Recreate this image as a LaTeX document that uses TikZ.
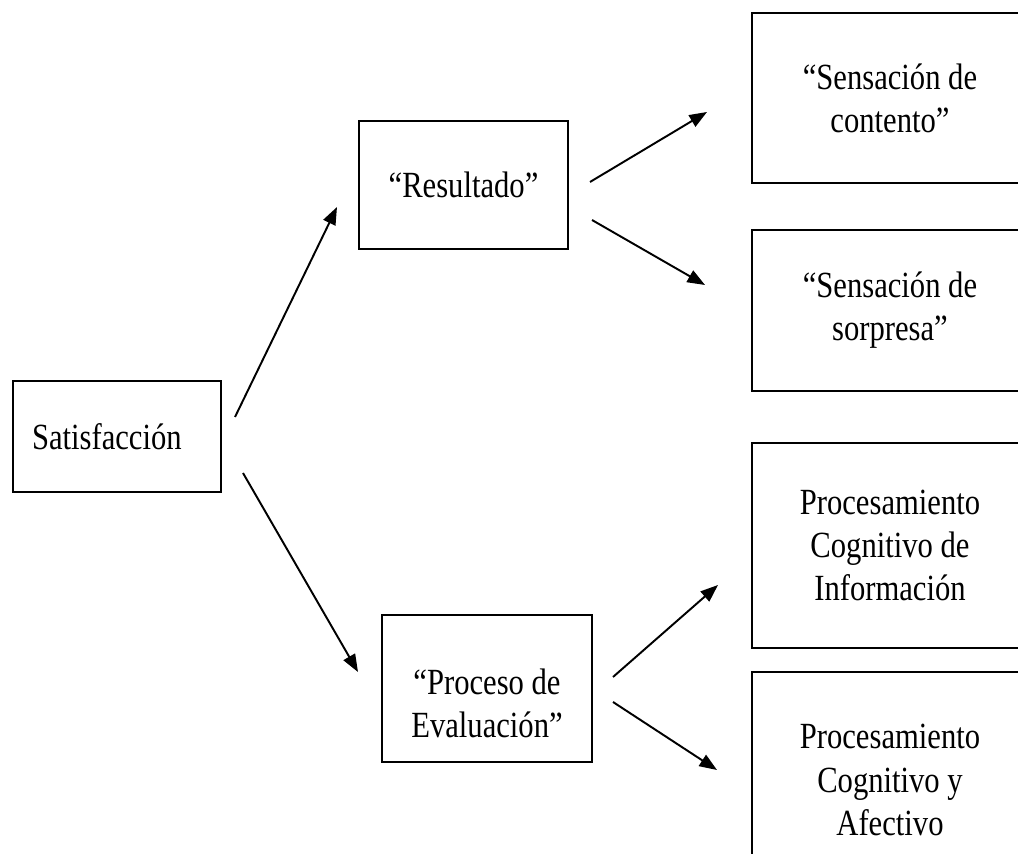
\documentclass[tikz,border=0pt]{standalone}
\usepackage{fontspec}
\setmainfont[FakeStretch=0.83]{Liberation Serif}
\usetikzlibrary{arrows.meta}

\begin{document}
\begin{tikzpicture}[x=0.02cm, y=-0.02cm,
    font=\fontsize{21pt}{24.5pt}\selectfont,
    box/.style={draw, line width=1.4pt, align=center, inner sep=0pt},
    link/.style={line width=1.1pt, -{Triangle[length=10pt, width=7.5pt]}}]
  \useasboundingbox (0,0) rectangle (1018,854);
  \clip (0,0) rectangle (1018,854);

  % left and middle boxes
  \node[box, align=left, text width=3.4cm, inner xsep=0.38cm, minimum height=2.22cm] (sat) at (117,436.5) {Satisfacción};
  \node[box, minimum width=4.18cm, minimum height=2.56cm] (res) at (463.5,185) {“Resultado”};
  \node[box, minimum width=4.2cm, minimum height=2.94cm] (proc) at (487,688.5) {\rule{0pt}{32pt}“Proceso de\\Evaluación”};

  % right column (runs past the page edge)
  \node[box, minimum width=5.52cm, minimum height=3.4cm] (cont) at (890,98) {“Sensación de\\contento”};
  \node[box, minimum width=5.52cm, minimum height=3.22cm] (sorp) at (890,310.5) {“Sensación de\\sorpresa”};
  \node[box, minimum width=5.52cm, minimum height=4.1cm] (info) at (890,545.5) {Procesamiento\\Cognitivo de\\Información};
  \node[box, minimum width=5.52cm, minimum height=4.32cm] (afec) at (890,780) {Procesamiento\\Cognitivo y\\Afectivo};

  % arrow ends
  \coordinate (satA) at (235,417);   \coordinate (resIn)  at (337,207);
  \coordinate (satB) at (243,473);   \coordinate (procIn) at (358,672);
  \coordinate (resA) at (590,182);   \coordinate (contIn) at (707,112);
  \coordinate (resB) at (592,220);   \coordinate (sorpIn) at (705,285);
  \coordinate (procA) at (613,677);  \coordinate (infoIn) at (718,585);
  \coordinate (procB) at (613,702);  \coordinate (afecIn) at (717,770);

  \draw[link] (satA) -- (resIn);
  \draw[link] (satB) -- (procIn);
  \draw[link] (resA) -- (contIn);
  \draw[link] (resB) -- (sorpIn);
  \draw[link] (procA) -- (infoIn);
  \draw[link] (procB) -- (afecIn);
\end{tikzpicture}
\end{document}
